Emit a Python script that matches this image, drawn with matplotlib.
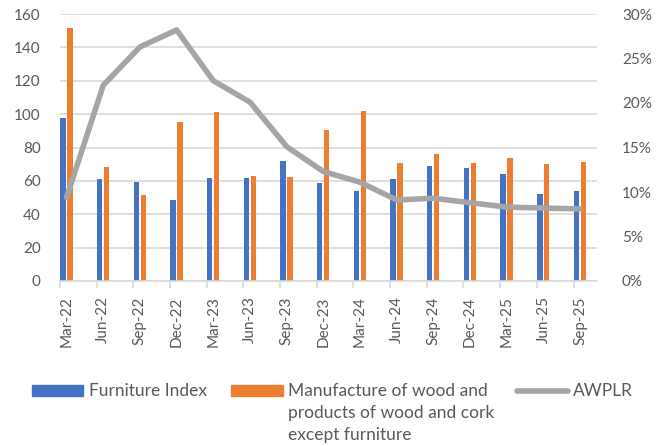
import matplotlib
matplotlib.use("Agg")
import matplotlib.pyplot as plt
import numpy as np
from matplotlib.patches import Rectangle
from matplotlib.lines import Line2D
from matplotlib.ticker import FuncFormatter

plt.rcParams['font.family'] = ['Lato', 'DejaVu Sans']

quarters = ["Mar-22", "Jun-22", "Sep-22", "Dec-22", "Mar-23", "Jun-23", "Sep-23",
            "Dec-23", "Mar-24", "Jun-24", "Sep-24", "Dec-24", "Mar-25", "Jun-25", "Sep-25"]
furniture_index = [97.6, 61, 59.2, 48.4, 61.6, 62, 72.2, 58.6, 53.8, 61, 69, 68, 64, 52, 53.8]
wood_products = [151.4, 68.6, 51.4, 95.2, 101.4, 62.8, 62.2, 90.6, 101.6, 70.6, 76.4, 70.6, 73.6, 70.4, 71.6]
awplr = [9.4, 22.0, 26.3, 28.2, 22.5, 20.1, 15.1, 12.3, 11.1, 9.1, 9.3, 8.8, 8.3, 8.2, 8.1]

labels = ["Furniture Index",
          "Manufacture of wood and\nproducts of wood and cork\nexcept furniture",
          "AWPLR"]

BLUE = "#4472C4"
ORANGE = "#ED7D31"
GREY = "#A5A5A5"
TEXT = "#595959"
GRID = "#D9D9D9"
TICK_FS = 11
LEG_FS = 12.5

W, H = 661, 446
fig = plt.figure(figsize=(W / 100, H / 100), dpi=100)
ax = fig.add_axes([60 / W, 1 - 281 / H, (597 - 60) / W, (281 - 14) / H])

x = np.arange(len(quarters))
bw = 0.15
ax.bar(x - 0.10, furniture_index, width=bw, color=BLUE, zorder=2)
ax.bar(x + 0.09, wood_products, width=bw, color=ORANGE, zorder=2)

ax.set_ylim(0, 160)
ax.set_yticks(np.arange(0, 161, 20))
ax.set_xlim(-0.18, 14.46)
ax.grid(axis="y", color=GRID, linewidth=1.2, zorder=0)
ax.set_axisbelow(True)
for s in ["top", "right", "left"]:
    ax.spines[s].set_visible(False)
ax.spines["bottom"].set_color(GRID)
ax.spines["bottom"].set_linewidth(1.2)

# category labels at cluster centres, tick marks on category boundaries
ax.set_xticks(x)
ax.set_xticklabels(quarters, rotation=90, color=TEXT, fontsize=TICK_FS)
ax.tick_params(axis="x", length=0, pad=11)
ax.set_xticks(np.arange(len(quarters)) - 0.18, minor=True)
ax.tick_params(axis="x", which="minor", length=5, color=GRID, width=1.2)
ax.tick_params(axis="y", length=0, pad=14, labelcolor=TEXT, labelsize=TICK_FS)

ax2 = ax.twinx()
ax2.plot(x, awplr, color=GREY, linewidth=4, solid_capstyle="round",
         solid_joinstyle="round", zorder=3)
ax2.set_ylim(0, 30)
ax2.set_yticks(np.arange(0, 31, 5))
ax2.yaxis.set_major_formatter(FuncFormatter(lambda v, p: f"{v:.0f}%"))
ax2.tick_params(axis="y", length=0, pad=18, labelcolor=TEXT, labelsize=TICK_FS)
for s in ax2.spines.values():
    s.set_visible(False)

# legend drawn in figure pixel coordinates
def fy(py):
    return 1 - py / H

def fx(px):
    return px / W

fig.add_artist(Rectangle((fx(32), fy(396)), fx(83) - fx(32), fy(385) - fy(396),
                         transform=fig.transFigure, color=BLUE))
fig.text(fx(89), fy(391), labels[0], color=TEXT, fontsize=LEG_FS, va="center", ha="left")
fig.add_artist(Rectangle((fx(231), fy(396)), fx(283) - fx(231), fy(385) - fy(396),
                         transform=fig.transFigure, color=ORANGE))
for i, line in enumerate(labels[1].split("\n")):
    fig.text(fx(288), fy(391 + 22.2 * i), line, color=TEXT, fontsize=LEG_FS,
             va="center", ha="left")
fig.add_artist(Line2D([fx(517), fx(568)], [fy(391), fy(391)], transform=fig.transFigure,
                      color=GREY, linewidth=4, solid_capstyle="round"))
fig.text(fx(573), fy(391), labels[2], color=TEXT, fontsize=LEG_FS, va="center", ha="left")

fig.savefig("out.png", dpi=100)
